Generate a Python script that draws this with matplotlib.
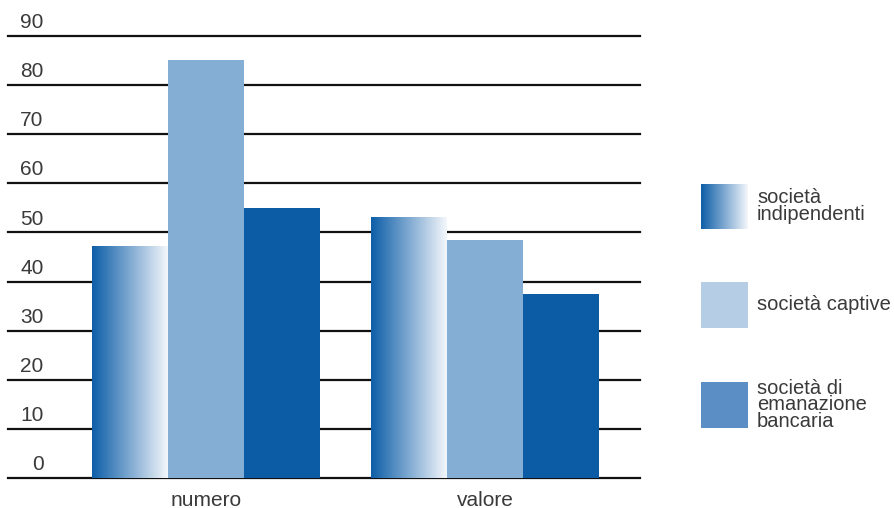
import matplotlib.pyplot as plt
import numpy as np
from matplotlib.colors import LinearSegmentedColormap
from matplotlib.patches import Rectangle

categories = ["numero", "valore"]
indipendenti = [47.2, 53.0]
captive = [85.1, 48.5]
bancaria = [55.0, 37.5]
yticks = [0, 10, 20, 30, 40, 50, 60, 70, 80, 90]
legend_labels = ["società\nindipendenti", "società captive", "società di\nemanazione\nbancaria"]

DARK = "#0B5CA5"
LIGHT = "#85AED4"
TEXT = "#3a3a3a"
grad = LinearSegmentedColormap.from_list("grad", ["#0D5EA8", "#7FA9D1", "#F4F7FB"])

plt.rcParams["font.family"] = ["Liberation Sans", "DejaVu Sans"]

W, H = 894, 508
fig = plt.figure(figsize=(W / 100, H / 100), dpi=100)

# main axes: gridlines span x 8..640 px, y 0 at 478 px, 90 at 36 px
ax = fig.add_axes([8 / W, 1 - 478 / H, (640 - 8) / W, (478 - 36) / H])
ax.axis("off")

x = np.arange(len(categories))
w = 0.272

for t in yticks:
    ax.axhline(t, color="#111111", lw=1.6, zorder=1, clip_on=False)
    ax.text(0.056, t + 0.8, str(t), transform=ax.get_yaxis_transform(),
            ha="right", va="bottom", fontsize=15, color=TEXT)

# gradient bars
for xi, v in zip(x - w, indipendenti):
    ax.imshow(np.linspace(0, 1, 256).reshape(1, -1), cmap=grad, aspect="auto",
              extent=[xi - w / 2, xi + w / 2, 0, v], zorder=2, interpolation="bicubic")
ax.bar(x, captive, w, color=LIGHT, zorder=2)
ax.bar(x + w, bancaria, w, color=DARK, zorder=2)
ax.set_xlim(-0.71, 1.556)
ax.set_ylim(0, 90)

for xi, c in zip(x, categories):
    ax.text(xi, -4.5, c, ha="center", va="center", fontsize=15, color=TEXT)

# legend in pixel coords
lax = fig.add_axes([0, 0, 1, 1])
lax.axis("off")
lax.imshow(np.linspace(0, 1, 256).reshape(1, -1), cmap=grad, aspect="auto",
           extent=[701, 748, 229, 184], interpolation="bicubic")
lax.add_patch(Rectangle((701, 282), 47, 46, color="#B5CDE5", lw=0))
lax.add_patch(Rectangle((701, 382), 47, 46, color="#5A8EC4", lw=0))
lax.set_xlim(0, W)
lax.set_ylim(H, 0)
for y, lab in zip([206, 305, 405], legend_labels):
    lax.text(757, y, lab, ha="left", va="center", fontsize=14.5, color=TEXT,
             linespacing=0.85)

fig.savefig("out.png", dpi=100)
